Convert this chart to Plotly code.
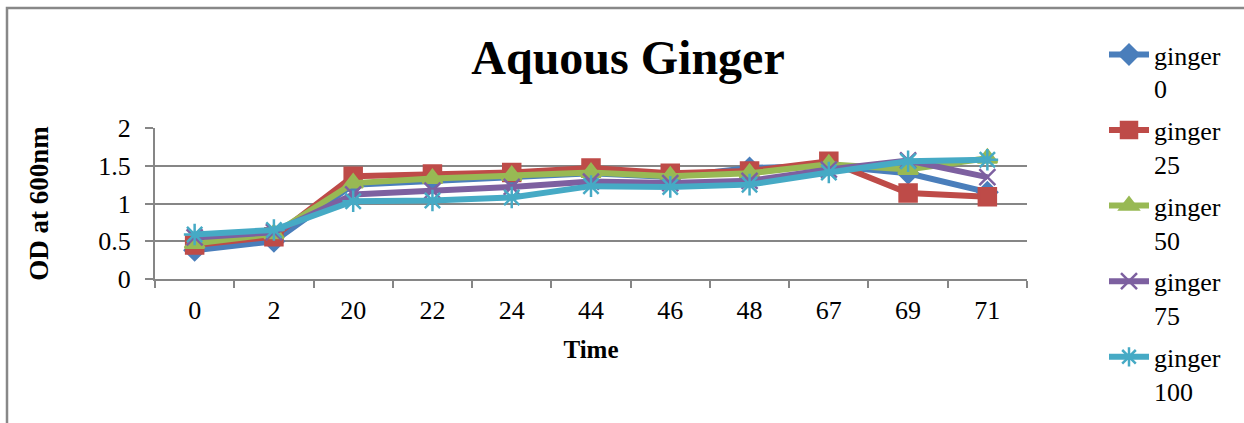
import plotly.graph_objects as go

# Sampling times (h) and optical density readings for each ginger concentration
times = ["0", "2", "20", "22", "24", "44", "46", "48", "67", "69", "71"]
ginger_0 = [0.38, 0.50, 1.25, 1.30, 1.35, 1.40, 1.35, 1.47, 1.50, 1.40, 1.15]
ginger_25 = [0.45, 0.56, 1.36, 1.39, 1.41, 1.47, 1.40, 1.43, 1.56, 1.14, 1.09]
ginger_50 = [0.47, 0.60, 1.27, 1.33, 1.37, 1.41, 1.36, 1.40, 1.52, 1.45, 1.60]
ginger_75 = [0.55, 0.62, 1.12, 1.17, 1.22, 1.29, 1.27, 1.30, 1.45, 1.57, 1.35]
ginger_100 = [0.59, 0.65, 1.03, 1.04, 1.08, 1.23, 1.22, 1.25, 1.41, 1.56, 1.58]

series_names = ["ginger<br>0", "ginger<br>25", "ginger<br>50", "ginger<br>75", "ginger<br>100"]
series_values = [ginger_0, ginger_25, ginger_50, ginger_75, ginger_100]
colors = ["#4A7EBB", "#BE4B48", "#98B954", "#7D60A0", "#46AAC5"]
symbols = ["diamond", "square", "triangle-up", "x-thin-open", "asterisk-open"]
sizes = [15, 17, 17, 16, 18]

FONT = "Liberation Serif, 'Times New Roman', 'DejaVu Serif', serif"

fig = go.Figure()
for name, vals, col, sym, sz in zip(series_names, series_values, colors, symbols, sizes):
    fig.add_trace(go.Scatter(
        x=times, y=vals, name=name, legendgroup=name, mode="lines+markers",
        line=dict(color=col, width=6),
        marker=dict(symbol=sym, size=sz, color=col,
                    line=dict(color=col, width=2.5)),
    ))

# plot area: x 155..1027, y 128..279 in a 1244x423 page
L, R, T, B = 155, 217, 128, 144
W, H = 1244, 423
pw, ph = W - L - R, H - T - B

def px_x(px):
    return (px - L) / pw

def px_y(py):
    return (H - B - py) / ph

fig.update_layout(
    width=W, height=H,
    margin=dict(l=L, r=R, t=T, b=B),
    paper_bgcolor="white", plot_bgcolor="white",
    font=dict(family=FONT, color="black", size=26),
    title=dict(text="<b>Aquous Ginger</b>", x=px_x(628), xref="paper", xanchor="center",
               y=1 - 57 / H, yref="container", yanchor="middle",
               font=dict(family=FONT, size=48, color="black")),
    showlegend=True,
    legend=dict(x=px_x(1104), xanchor="left", y=px_y(31), yanchor="top", valign="top",
                font=dict(family=FONT, size=26, color="black"), bgcolor="rgba(0,0,0,0)",
                tracegroupgap=5, itemwidth=40, maxheight=420),
    xaxis=dict(type="category", range=[-0.5, 10.5], showgrid=False, showline=True,
               linecolor="#868686", linewidth=2,
               ticks="outside", tickson="boundaries", ticklen=7, tickcolor="#868686", tickwidth=2,
               ticklabelstandoff=7,
               tickfont=dict(family=FONT, size=26),
               title=dict(text="<b>Time</b>", font=dict(family=FONT, size=25), standoff=16)),
    yaxis=dict(range=[0, 2], tickvals=[0, 0.5, 1, 1.5, 2], ticktext=["0", "0.5", "1", "1.5", "2"],
               showgrid=True, gridcolor="#868686", gridwidth=2, zeroline=False,
               showline=True, linecolor="#868686", linewidth=2,
               ticks="outside", ticklen=8, tickcolor="#868686", tickwidth=2,
               ticklabelstandoff=9,
               tickfont=dict(family=FONT, size=26),
               title=dict(text="<b>OD at 600nm</b>", font=dict(family=FONT, size=27), standoff=42)),
)

# chart frame
fig.add_shape(type="rect", xref="paper", yref="paper",
              x0=px_x(7), x1=px_x(1252), y0=px_y(440), y1=px_y(8),
              line=dict(color="#888888", width=2.5), fillcolor="rgba(0,0,0,0)", layer="below")

fig.write_html("out.html")
